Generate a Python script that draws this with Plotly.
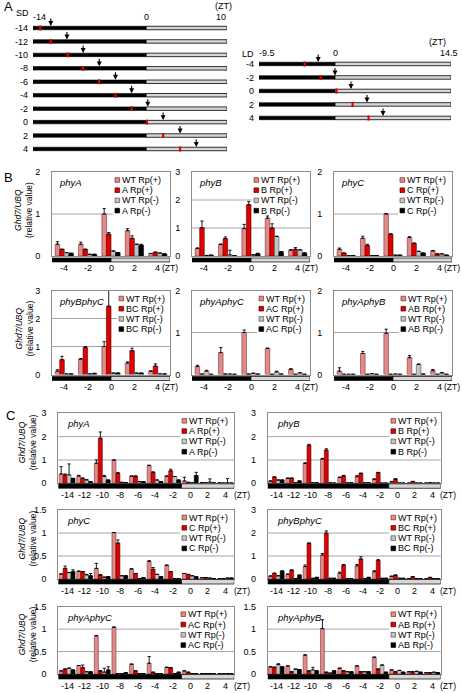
import plotly.graph_objects as go

W, H = 462, 693
FONT = "Liberation Sans, Arial, sans-serif"

# ---------------- Panel A data ----------------
sd_rows = [-14, -12, -10, -8, -6, -4, -2, 0, 2, 4]
sd_pulse = [-13.1, -11.8, -9.7, -7.8, -5.8, -3.8, -1.8, 0.1, 2.1, 4.2]
sd_sample = [-11.8, -9.8, -7.8, -5.8, -3.8, -1.8, 0.2, 2.1, 4.2, 6.2]
sd_dark = [-14, 0]
sd_light = [0, 10]

ld_rows = [-4, -2, 0, 2, 4]
ld_pulse = [-3.8, -1.8, 0.2, 2.2, 4.2]
ld_sample = [-2.1, 0.0, 2.0, 4.0, 6.0]
ld_dark = [-9.5, 0]
ld_light = [0, 14.5]

# ---------------- Panel B data (ZT) ----------------
B_zt = [-4, -2, 0, 2, 4]
B_dark_end = 0

bA_wtp = [0.28, 0.28, 1.00, 0.60, 0.06]
bA_mp = [0.16, 0.16, 0.52, 0.42, 0.09]
bA_wtm = [0.08, 0.04, 0.12, 0.28, 0.07]
bA_mm = [0.065, 0.04, 0.08, 0.26, 0.05]
bA_err = [[0.06, 0.05, 0.13, 0.05, 0], [0, 0, 0.04, 0.06, 0], [0, 0, 0, 0, 0], [0, 0, 0, 0.02, 0]]

bB_wtp = [0.27, 0.41, 0.98, 1.35, 0.21]
bB_mp = [1.01, 0.62, 1.83, 1.00, 0.24]
bB_wtm = [0.02, 0.04, 0.04, 0.70, 0.22]
bB_mm = [0.03, 0.01, 0.08, 0.15, 0.10]
bB_err = [[0.02, 0.02, 0.15, 0.08, 0.02], [0.24, 0.06, 0.11, 0.15, 0.06], [0, 0.17, 0, 0, 0], [0, 0, 0.02, 0, 0.02]]

bC_wtp = [0.16, 0.42, 1.00, 0.44, 0.12]
bC_mp = [0.07, 0.25, 0.52, 0.30, 0.05]
bC_wtm = [0.01, 0.01, 0.02, 0.11, 0.05]
bC_mm = [0.01, 0.01, 0.02, 0.07, 0.02]
bC_err = [[0.03, 0.05, 0.01, 0.02, 0.01], [0, 0.03, 0.01, 0.01, 0], [0, 0, 0, 0, 0], [0, 0, 0, 0, 0]]

bBC_wtp = [0.12, 0.55, 1.00, 0.41, 0.12]
bBC_mp = [0.53, 0.96, 2.44, 0.85, 0.30]
bBC_wtm = [0.02, 0.02, 0.05, 0.05, 0.02]
bBC_mm = [0.02, 0.04, 0.05, 0.05, 0.02]
bBC_err = [[0.05, 0.02, 0.17, 0.04, 0.01], [0.12, 0.04, 0.56, 0.09, 0.08], [0, 0, 0, 0, 0], [0, 0, 0, 0, 0]]

bAC_wtp = [0.19, 0.52, 1.00, 0.62, 0.12]
bAC_mp = [0.01, 0.01, 0.01, 0.005, 0.005]
bAC_wtm = [0.08, 0.01, 0.03, 0.06, 0.04]
bAC_mm = [0.005, 0.005, 0.01, 0.01, 0.005]
bAC_err = [[0.03, 0.12, 0.06, 0.01, 0.02], [0, 0, 0, 0, 0], [0.02, 0, 0, 0.02, 0], [0, 0, 0, 0, 0]]

bAB_wtp = [0.08, 0.50, 0.98, 0.40, 0.09]
bAB_mp = [0.005, 0.005, 0.005, 0.005, 0.005]
bAB_wtm = [0.005, 0.02, 0.01, 0.24, 0.04]
bAB_mm = [0.005, 0.005, 0.005, 0.01, 0.005]
bAB_err = [[0.08, 0.05, 0.10, 0.05, 0.03], [0, 0, 0, 0, 0], [0, 0, 0, 0.01, 0], [0, 0, 0, 0, 0]]

# ---------------- Panel C data (ZT) ----------------
C_zt = [-14, -12, -10, -8, -6, -4, -2, 0, 2, 4]
C_dark_end = -1

cA_wtp = [0.40, 0.31, 0.86, 1.00, 0.31, 0.76, 0.31, 0.10, 0.03, 0.02]
cA_mp = [0.36, 0.21, 1.93, 0.43, 0.31, 0.47, 0.53, 0.04, 0.02, 0.01]
cA_wtm = [0.36, 0.14, 0.29, 0.04, 0.07, 0.14, 0.29, 0.02, 0.05, 0.02]
cA_mm = [0.21, 0.07, 0.14, 0.03, 0.07, 0.07, 0.14, 0.33, 0.02, 0.01]
cA_err = [[0.31, 0.03, 0.14, 0, 0, 0.02, 0, 0.16, 0, 0],
          [0.04, 0.02, 0.27, 0.03, 0, 0.02, 0.07, 0, 0, 0],
          [0.47, 0.02, 0.05, 0, 0, 0, 0, 0, 0.14, 0.18],
          [0, 0, 0, 0, 0, 0, 0, 0.14, 0, 0]]

cB_wtp = [0.10, 0.22, 0.85, 1.04, 0.25, 0.28, 0.18, 0.06, 0.01, 0.01]
cB_mp = [0.27, 0.22, 1.63, 1.42, 0.32, 0.42, 0.46, 0.18, 0.08, 0.02]
cB_wtm = [0.14, 0.02, 0.02, 0.02, 0.02, 0.02, 0.01, 0.01, 0.01, 0.01]
cB_mm = [0.14, 0.10, 0.02, 0.01, 0.02, 0.02, 0.01, 0.01, 0.01, 0.01]
cB_err = [[0, 0, 0.03, 0.03, 0.02, 0.05, 0, 0.02, 0, 0],
          [0, 0, 0.04, 0.06, 0.02, 0.02, 0.01, 0.02, 0, 0],
          [0] * 10, [0] * 10]

cC_wtp = [0.11, 0.17, 0.23, 1.01, 0.22, 0.38, 0.30, 0.12, 0.03, 0.01]
cC_mp = [0.23, 0.16, 0.09, 0.78, 0.12, 0.21, 0.16, 0.10, 0.03, 0.01]
cC_wtm = [0.14, 0.09, 0.04, 0.07, 0.01, 0.10, 0.01, 0.07, 0.02, 0.02]
cC_mm = [0.16, 0.07, 0.05, 0.07, 0.03, 0.05, 0.01, 0.05, 0.01, 0.02]
cC_err = [[0, 0, 0.11, 0, 0, 0.02, 0, 0, 0, 0],
          [0.05, 0, 0, 0.07, 0, 0.04, 0, 0, 0, 0],
          [0, 0.01, 0, 0, 0, 0, 0, 0, 0, 0],
          [0.04, 0.05, 0, 0, 0, 0, 0, 0, 0, 0]]

cBC_wtp = [0.13, 0.20, 0.54, 1.04, 0.25, 0.57, 0.32, 0.12, 0.02, 0.01]
cBC_mp = [0.25, 0.39, 1.55, 1.99, 0.61, 0.87, 0.80, 0.17, 0.10, 0.07]
cBC_wtm = [0.14, 0.02, 0.03, 0.03, 0.01, 0.01, 0.03, 0.03, 0.02, 0.02]
cBC_mm = [0.35, 0.17, 0.07, 0.03, 0.01, 0.07, 0.03, 0.03, 0.01, 0.01]
cBC_err = [[0, 0.02, 0.07, 0.07, 0.05, 0.06, 0.04, 0, 0, 0],
           [0, 0, 0.02, 0.10, 0.02, 0.10, 0.05, 0, 0, 0],
           [0] * 10, [0] * 10]

cAC_wtp = [0.07, 0.19, 0.85, 1.04, 0.22, 0.24, 0.15, 0.07, 0.01, 0.01]
cAC_mp = [0.11, 0.14, 0.07, 0.01, 0.07, 0.04, 0.14, 0.04, 0.01, 0.005]
cAC_wtm = [0.13, 0.05, 0.04, 0.01, 0.01, 0.01, 0.01, 0.01, 0.01, 0.01]
cAC_mm = [0.09, 0.05, 0.09, 0.03, 0.01, 0.01, 0.04, 0.005, 0.005, 0.005]
cAC_err = [[0, 0, 0.01, 0.01, 0, 0.15, 0, 0, 0, 0],
           [0, 0.06, 0, 0, 0, 0, 0, 0, 0, 0],
           [0, 0, 0.09, 0, 0, 0, 0, 0, 0, 0],
           [0, 0, 0.07, 0, 0, 0, 0, 0, 0, 0]]

cAB_wtp = [0.16, 0.18, 0.42, 1.01, 0.13, 0.18, 0.37, 0.09, 0.05, 0.03]
cAB_mp = [0.15, 0.05, 0.07, 0.04, 0.07, 0.05, 0.11, 0.05, 0.05, 0.03]
cAB_wtm = [0.21, 0.11, 0.09, 0.02, 0.05, 0.05, 0.20, 0.08, 0.06, 0.04]
cAB_mm = [0.16, 0.10, 0.07, 0.07, 0.05, 0.05, 0.04, 0.04, 0.04, 0.03]
cAB_err = [[0, 0, 0.01, 0.20, 0, 0, 0.01, 0, 0, 0],
           [0] * 10,
           [0.02, 0, 0.06, 0, 0, 0, 0, 0, 0, 0],
           [0] * 10]

series_labels = ["WT Rp(+)", "{} Rp(+)", "WT Rp(-)", "{} Rp(-)"]
series_colors = ["#e08a8a", "#e00000", "#c4c4c4", "#000000"]
line_colors = ["#7a3030", "#500000", "#505050", "#000000"]

# ---------------- helpers ----------------
def px(p):
    return p / W


def py(p):
    return 1 - p / H


fig = go.Figure()
layout = dict(width=W, height=H, margin=dict(l=0, r=0, t=0, b=0, autoexpand=False),
              paper_bgcolor="white", plot_bgcolor="white", showlegend=False,
              barmode="overlay", font=dict(family=FONT, size=9, color="black"))
ann = []
shp = []


def txt(x, y, s, size=9, xanchor="center", yanchor="middle", xref="paper", yref="paper",
        angle=0, xshift=0, yshift=0):
    ann.append(dict(x=x, y=y, xref=xref, yref=yref, text=s, showarrow=False,
                    xanchor=xanchor, yanchor=yanchor, textangle=angle,
                    xshift=xshift, yshift=yshift, borderpad=0,
                    font=dict(family=FONT, size=size, color="black")))


# ---------------- Panel A ----------------
def timeline_panel(n, rows, pulse, sample, dark, light, box):
    x0, x1, yt, yb = box
    xa = "xaxis" if n == 1 else f"xaxis{n}"
    ya = "yaxis" if n == 1 else f"yaxis{n}"
    xr = "x" if n == 1 else f"x{n}"
    yr = "y" if n == 1 else f"y{n}"
    nrow = len(rows)
    layout[xa] = dict(domain=[px(x0), px(x1)], range=[dark[0], light[1]], anchor=yr,
                      showticklabels=False, showgrid=False, zeroline=False, showline=False)
    layout[ya] = dict(domain=[py(yb), py(yt)], range=[rows[-1] + 1, rows[0] - 1], anchor=xr,
                      tickvals=rows, ticktext=[str(r) for r in rows], showgrid=False,
                      zeroline=False, showline=False, ticks="", ticklabelstandoff=4,
                      tickfont=dict(family=FONT, size=9))
    fig.add_trace(go.Bar(y=rows, x=[dark[1] - dark[0]] * nrow, base=[dark[0]] * nrow,
                         orientation="h", width=0.52, xaxis=xr, yaxis=yr,
                         marker=dict(color="black", line=dict(color="black", width=0.6))))
    fig.add_trace(go.Bar(y=rows, x=[light[1] - light[0]] * nrow, base=[light[0]] * nrow,
                         orientation="h", width=0.52, xaxis=xr, yaxis=yr,
                         marker=dict(color="#d6d6d6", line=dict(color="black", width=0.8))))
    fig.add_trace(go.Scatter(x=pulse, y=rows, mode="markers", xaxis=xr, yaxis=yr,
                             marker=dict(symbol="line-ns", size=3.5,
                                         line=dict(color="#e00000", width=2.2))))
    for t, r in zip(sample, rows):
        ann.append(dict(x=t, y=r, xref=xr, yref=yr, text="", showarrow=True,
                        ax=0, ay=-9, arrowhead=2, arrowsize=0.9, arrowwidth=1.1,
                        arrowcolor="black", yshift=2))


timeline_panel(1, sd_rows, sd_pulse, sd_sample, sd_dark, sd_light, (33, 227, 21.3, 155.7))
timeline_panel(2, ld_rows, ld_pulse, ld_sample, ld_dark, ld_light, (259, 451, 57.2, 124.7))

txt(px(8), py(7), "A", size=13)
txt(px(22.5), py(13.3), "SD", size=9)
txt(-14, py(17), "-14", xref="x", xanchor="left", xshift=-1)
txt(0, py(17), "0", xref="x")
txt(10, py(17), "10", xref="x", xanchor="right")
txt(px(223), py(6.5), "(ZT)")
txt(px(248), py(54), "LD", size=9)
txt(-9.5, py(53), "-9.5", xref="x2", xanchor="left", xshift=-1)
txt(0, py(53), "0", xref="x2")
txt(px(459), py(53), "14.5", xanchor="right")
txt(px(437), py(42), "(ZT)")

# ---------------- bar panels ----------------
def bar_panel(n, title, mut, box, ymax, dtick, zt, vals, errs, bw, xrange, dark_end,
              leg_sq_x, leg_rows, title_dx, tl, zt_shift, show_ytitle, ytitle_x, ytitle_dy):
    x0, x1, yt, yb = box
    xr, yr = f"x{n}", f"y{n}"
    layout[f"xaxis{n}"] = dict(domain=[px(x0), px(x1)], range=xrange, anchor=yr,
                               tickvals=zt, showticklabels=False, ticks="",
                               showgrid=False, zeroline=False, showline=True, mirror=True,
                               linecolor="#8c8c8c", linewidth=1)
    layout[f"yaxis{n}"] = dict(domain=[py(yb), py(yt)], range=[0, ymax], dtick=dtick,
                               anchor=xr, showgrid=False,
                               zeroline=False, showline=True, mirror=True,
                               linecolor="#8c8c8c", linewidth=1, ticks="",
                               ticklabelstandoff=9, tickfont=dict(family=FONT, size=9))
    # horizontal grid lines
    g = dtick
    while g < ymax - 1e-9:
        shp.append(dict(type="line", xref=f"{xr} domain", yref=yr, x0=0, x1=1, y0=g, y1=g,
                        layer="below", line=dict(color="#a6a6a6", width=1)))
        g += dtick
    for k in range(4):
        e = [v if v > 0 else None for v in errs[k]]
        fig.add_trace(go.Bar(
            x=zt, y=vals[k], width=bw, offset=-2 * bw + k * bw, xaxis=xr, yaxis=yr,
            marker=dict(color=series_colors[k], line=dict(color=line_colors[k], width=0.6)),
            error_y=dict(type="data", symmetric=False, array=e,
                         arrayminus=[0] * len(zt), color="black", thickness=0.9, width=1.6)))
    # day/night timeline under the axis
    shp.append(dict(type="rect", xref=xr, yref=f"{yr} domain", x0=xrange[0], x1=dark_end,
                    y0=tl[0], y1=tl[1], ysizemode="pixel", yanchor=0,
                    fillcolor="black", line=dict(color="black", width=0.6)))
    shp.append(dict(type="rect", xref=xr, yref=f"{yr} domain", x0=dark_end, x1=xrange[1],
                    y0=tl[0], y1=tl[1], ysizemode="pixel", yanchor=0,
                    fillcolor="#d6d6d6", line=dict(color="black", width=0.7)))
    # x tick labels
    for z in zt:
        txt(z, py(yb + 12), str(z), xref=xr, size=9)
    txt(zt[-1], py(yb + 12), "(ZT)", xref=xr, xanchor="left", xshift=zt_shift, size=8.5)
    # legend (white box hides the grid lines behind it)
    sq = 4.6
    bw_px = x1 - x0
    bh_px = yb - yt
    shp.append(dict(type="rect", xref=f"{xr} domain", yref=f"{yr} domain", layer="below",
                    x0=(leg_sq_x - 2 - x0) / bw_px, x1=1.0,
                    y0=1 - (leg_rows[-1] + 5) / bh_px, y1=1.0,
                    fillcolor="white", line=dict(width=0)))
    for k in range(4):
        cy = yt + leg_rows[k]
        shp.append(dict(type="rect", xref="paper", yref="paper",
                        x0=px(leg_sq_x), x1=px(leg_sq_x + sq),
                        y0=py(cy + sq / 2), y1=py(cy - sq / 2),
                        fillcolor=series_colors[k], line=dict(color=line_colors[k], width=0.7)))
        txt(px(leg_sq_x + sq + 1), py(cy), series_labels[k].format(mut), size=9,
            xanchor="left")
    txt(px(x0 + title_dx), py(yt + 10.5), f"<i>{title}</i>", size=9.5, xanchor="left")
    if show_ytitle:
        txt(px(ytitle_x), py((yt + yb) / 2 - ytitle_dy),
            "<i>Ghd7/UBQ</i><br>(relative value)", size=8.5, angle=-90)


B_series = {
    "A": ([bA_wtp, bA_mp, bA_wtm, bA_mm], bA_err),
    "B": ([bB_wtp, bB_mp, bB_wtm, bB_mm], bB_err),
    "C": ([bC_wtp, bC_mp, bC_wtm, bC_mm], bC_err),
    "BC": ([bBC_wtp, bBC_mp, bBC_wtm, bBC_mm], bBC_err),
    "AC": ([bAC_wtp, bAC_mp, bAC_wtm, bAC_mm], bAC_err),
    "AB": ([bAB_wtp, bAB_mp, bAB_wtm, bAB_mm], bAB_err),
}
C_series = {
    "A": ([cA_wtp, cA_mp, cA_wtm, cA_mm], cA_err),
    "B": ([cB_wtp, cB_mp, cB_wtm, cB_mm], cB_err),
    "C": ([cC_wtp, cC_mp, cC_wtm, cC_mm], cC_err),
    "BC": ([cBC_wtp, cBC_mp, cBC_wtm, cBC_mm], cBC_err),
    "AC": ([cAC_wtp, cAC_mp, cAC_wtm, cAC_mm], cAC_err),
    "AB": ([cAB_wtp, cAB_mp, cAB_wtm, cAB_mm], cAB_err),
}

B_layout = [
    ("phyA", "A", (52, 170, 172, 256), 2, 1, 115, True),
    ("phyB", "B", (192, 310, 172, 256), 3, 1, 254, False),
    ("phyC", "C", (334, 452, 172, 256), 2, 1, 400, False),
    ("phyBphyC", "BC", (52, 170, 290.5, 374.5), 3, 1, 119, True),
    ("phyAphyC", "AC", (192, 310, 290.5, 374.5), 2, 1, 259, False),
    ("phyAphyB", "AB", (334, 452, 290.5, 374.5), 2, 1, 401, False),
]
n = 3
for title, mut, box, ymax, dt, lsx, yt in B_layout:
    v, e = B_series[mut]
    bar_panel(n, title, mut, box, ymax, dt, B_zt, v, e, 0.39, [-5.05, 5.05], B_dark_end,
              lsx, [8, 18.2, 28.4, 38.6], 6, (-6, -2), 3, yt, 24, 4)
    n += 1

C_layout = [
    ("phyA", "A", (58.3, 234.3, 413.3, 483.3), 3, 1, 182, True),
    ("phyB", "B", (267.7, 440.7, 413.3, 483.3), 3, 1, 391, False),
    ("phyC", "C", (58.3, 234.3, 510, 579), 1.5, 0.5, 182, True),
    ("phyBphyC", "BC", (267.7, 440.7, 510, 579), 3, 1, 391, False),
    ("phyAphyC", "AC", (58.3, 234.3, 606.7, 674), 1.5, 0.5, 181, True),
    ("phyAphyB", "AB", (267.7, 440.7, 606.7, 674), 1.5, 0.5, 391, False),
]
for title, mut, box, ymax, dt, lsx, yt in C_layout:
    v, e = C_series[mut]
    bar_panel(n, title, mut, box, ymax, dt, C_zt, v, e, 0.45, [-15, 5], C_dark_end,
              lsx, [7.5, 17.8, 28.1, 38.4], 8, (-5, -0.5), 7, yt, 27, 6)
    n += 1

txt(px(8), py(177), "B", size=13)
txt(px(10), py(415), "C", size=13)

layout["annotations"] = ann
layout["shapes"] = shp
fig.update_layout(**layout)
fig.write_html(
    "out.html",
    config={"displayModeBar": False, "staticPlot": True},
    post_script=("document.documentElement.style.margin='0';"
                 "document.body.style.margin='0';document.body.style.padding='0';"
                 "document.body.style.overflow='hidden';"),
)
